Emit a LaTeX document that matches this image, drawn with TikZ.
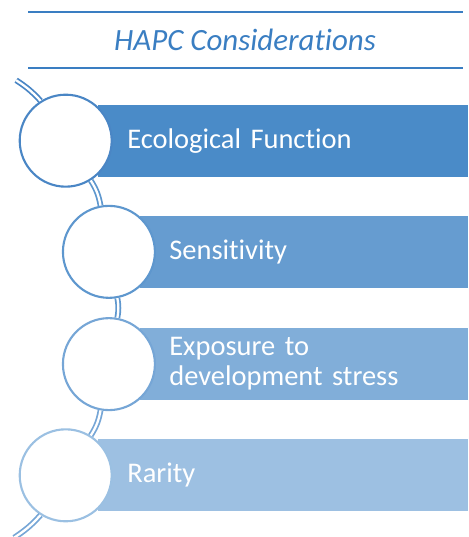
\documentclass[tikz,border=0pt]{standalone}
\usepackage{fontspec}
\setmainfont[Ligatures=NoCommon]{Carlito}
\definecolor{rule}{HTML}{3A7EC2}
\definecolor{barA}{HTML}{4A8BC8}
\definecolor{barB}{HTML}{669CD0}
\definecolor{barC}{HTML}{81AED9}
\definecolor{barD}{HTML}{9DC0E2}
\definecolor{ringA}{HTML}{4A86C5}
\definecolor{ringB}{HTML}{5E97CE}
\definecolor{ringC}{HTML}{76A6D6}
\definecolor{ringD}{HTML}{9BC0E2}
\begin{document}
\begin{tikzpicture}[x=0.02cm, y=0.02cm,
        bar/.style={rectangle, anchor=west, minimum height=1.44cm, inner xsep=0.58cm,
            inner ysep=0pt, text=white, align=left,
            font=\fontsize{16.2}{17}\selectfont},
        ring/.style={circle, draw, fill=white, minimum size=1.84cm, line width=1.2pt},
        link/.style={double=white, double distance=1.3pt, line width=1pt}]
        \useasboundingbox (0,0) rectangle (468,537);
        \draw [rule, line width=1.4pt] (28,525) -- (463,525);
        \draw [rule, line width=1.4pt] (28,469) -- (463,469);
        \node (title) at (245,497) {\fontsize{17.6}{20}\selectfont\itshape\color{rule}HAPC Considerations};

        \node [bar, fill=barA, text width=6.24cm] (b1) at (98,396) {Ecological Function};
        \node [bar, fill=barB, text width=5.4cm] (b2) at (140,285) {Sensitivity};
        \node [bar, fill=barC, text width=5.4cm] (b3) at (140,173) {Exposure to\\development stress};
        \node [bar, fill=barD, text width=6.24cm] (b4) at (98,62) {Rarity};

        \coordinate (arcc) at (-200,229);
        \coordinate (top) at ([shift={(arcc)}]46.5:314);
        \coordinate (bot) at ([shift={(arcc)}]-47:314);

        \node [ring, draw=ringA] (c1) at ([shift={(arcc)}]32.2:314) {};
        \node [ring, draw=ringB] (c2) at ([shift={(arcc)}]10.3:314) {};
        \node [ring, draw=ringC] (c3) at ([shift={(arcc)}]-10.3:314) {};
        \node [ring, draw=ringD] (c4) at ([shift={(arcc)}]-32.2:314) {};

        \draw [link, ringA] (top) to[bend left=7.15] (c1);
        \draw [link, ringB] (c1) to[bend left=10.95] (c2);
        \draw [link, ringB] (c2) to[bend left=10.3] (c3);
        \draw [link, ringC] (c3) to[bend left=10.95] (c4);
        \draw [link, ringC] (c4) to[bend left=7.3] (bot);
\end{tikzpicture}
\end{document}
